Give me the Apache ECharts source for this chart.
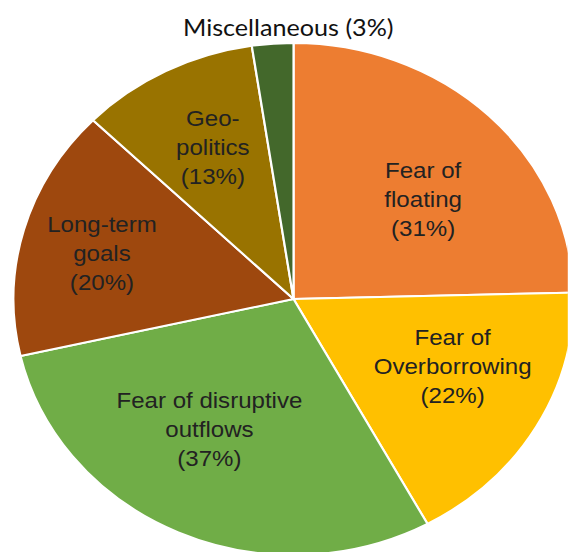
<!DOCTYPE html>
<html>
<head>
<meta charset="utf-8">
<script src="https://cdn.jsdelivr.net/npm/echarts@6/dist/echarts.min.js"></script>
<style>
  html, body { margin: 0; padding: 0; background: #fff; overflow: hidden; }
  #wrap { width: 568px; height: 552px; overflow: hidden; position: relative; }
  /* the reference pie is horizontally stretched (ellipse) */
  #chart { width: 519px; height: 552px; transform: scaleX(1.094); transform-origin: 0 0; }
</style>
</head>
<body>
<div id="wrap"><div id="chart"></div></div>
<script>
// ---- data ----
const categories = [
  'Fear of\nfloating',
  'Fear of\nOverborrowing',
  'Fear of disruptive\noutflows',
  'Long-term\ngoals',
  'Geo-\npolitics',
  'Miscellaneous'
];
const values = [31, 22, 37, 20, 13, 3];
const colors = ['#ED7D31', '#FFC000', '#70AD47', '#9E480E', '#997300', '#43682B'];
// label nudges (px, chart space) away from default inside position
const labelNudge = [[27, -6], [32, 2], [-23, 11], [-49, -10], [-14, -35], [5, -141]];

const chart = echarts.init(document.getElementById('chart'), null, { renderer: 'svg' });

const data = categories.map((c, i) => {
  const isMisc = i === categories.length - 1;
  return {
    name: c,
    value: values[i],
    itemStyle: { color: colors[i] },
    label: isMisc ? {
      formatter: '{b} ({c}%)',
      fontFamily: 'Lato',
      fontSize: 23,
      color: '#111'
    } : undefined
  };
});

chart.setOption({
  animation: false,
  series: [{
    type: 'pie',
    center: [268.3, 299],
    radius: [0, 256],
    startAngle: 90,
    clockwise: true,
    avoidLabelOverlap: false,
    itemStyle: { borderColor: '#ffffff', borderWidth: 2 },
    label: {
      show: true,
      position: 'inside',
      formatter: '{b}\n({c}%)',
      fontFamily: 'Liberation Sans, Arial, sans-serif',
      fontSize: 22,
      lineHeight: 29,
      color: '#222',
      align: 'center'
    },
    labelLine: { show: false },
    emphasis: { disabled: true },
    labelLayout: function (p) {
      const n = labelNudge[p.dataIndex];
      return {
        x: p.labelRect.x + p.labelRect.width / 2 + n[0],
        y: p.labelRect.y + p.labelRect.height / 2 + n[1],
        align: 'center',
        verticalAlign: 'middle'
      };
    },
    data: data
  }]
});
</script>
</body>
</html>
